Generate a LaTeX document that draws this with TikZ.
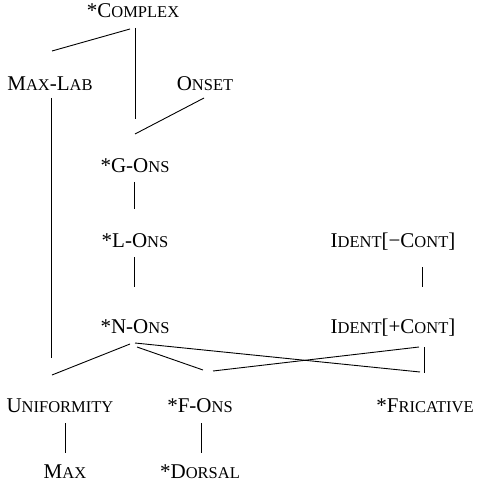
\documentclass[tikz,border=0pt]{standalone}
\usepackage{fontspec}
\setmainfont{Liberation Serif}
\newcommand\sm[1]{{\fontsize{16.5}{19}\selectfont #1}}
\begin{document}
\begin{tikzpicture}[x=1pt,y=-1pt,
  lab/.style={anchor=base,inner sep=0pt,font=\fontsize{21}{24}\selectfont},
  edge/.style={line width=0.9pt}]
\useasboundingbox (0,0) rectangle (485,486);
% nodes (baseline positions)
\node[lab] (complex) at (133,18) {*C\sm{OMPLEX}};
\node[lab] (maxlab) at (50,91) {M\sm{AX}-L\sm{AB}};
\node[lab] (onset) at (205,91) {O\sm{NSET}};
\node[lab] (gons) at (135,172) {*G-O\sm{NS}};
\node[lab] (lons) at (135,247) {*L-O\sm{NS}};
\node[lab] (nons) at (135,333) {*N-O\sm{NS}};
\node[lab] (identm) at (393,247) {I\sm{DENT}[−C\sm{ONT}]};
\node[lab] (identp) at (393,333) {I\sm{DENT}[+C\sm{ONT}]};
\node[lab] (unif) at (60,412) {U\sm{NIFORMITY}};
\node[lab] (fons) at (200,412) {*F-O\sm{NS}};
\node[lab] (fric) at (425,412) {*F\sm{RICATIVE}};
\node[lab] (max) at (65,478) {M\sm{AX}};
\node[lab] (dorsal) at (200,478) {*D\sm{ORSAL}};
% connector end points
\coordinate (c1) at (130,29);
\coordinate (m1) at (52,51);
\coordinate (c2) at (135,28);
\coordinate (g1) at (135,119);
\coordinate (o1) at (204,98);
\coordinate (g2) at (135,134);
\coordinate (m2) at (51,98);
\coordinate (n0) at (51,358);
\coordinate (g3) at (134,182);
\coordinate (l1) at (134,209);
\coordinate (l2) at (134,257);
\coordinate (n1) at (134,287);
\coordinate (im1) at (422,267);
\coordinate (ip1) at (422,287);
\coordinate (n2) at (130,344);
\coordinate (u1) at (52,375);
\coordinate (n3) at (137,347);
\coordinate (f1) at (203,370);
\coordinate (n4) at (135,343);
\coordinate (fr1) at (420,372);
\coordinate (ip2) at (424,347);
\coordinate (fr2) at (424,373);
\coordinate (ip3) at (419,347);
\coordinate (f2) at (213,371);
\coordinate (u2) at (65,423);
\coordinate (mx1) at (65,453);
\coordinate (f3) at (201,423);
\coordinate (d1) at (201,453);
% connectors
\draw[edge] (c1) -- (m1);
\draw[edge] (c2) -- (g1);
\draw[edge] (o1) -- (g2);
\draw[edge] (m2) -- (n0);
\draw[edge] (g3) -- (l1);
\draw[edge] (l2) -- (n1);
\draw[edge] (im1) -- (ip1);
\draw[edge] (n2) -- (u1);
\draw[edge] (n3) -- (f1);
\draw[edge] (n4) -- (fr1);
\draw[edge] (ip2) -- (fr2);
\draw[edge] (ip3) -- (f2);
\draw[edge] (u2) -- (mx1);
\draw[edge] (f3) -- (d1);
\end{tikzpicture}
\end{document}
